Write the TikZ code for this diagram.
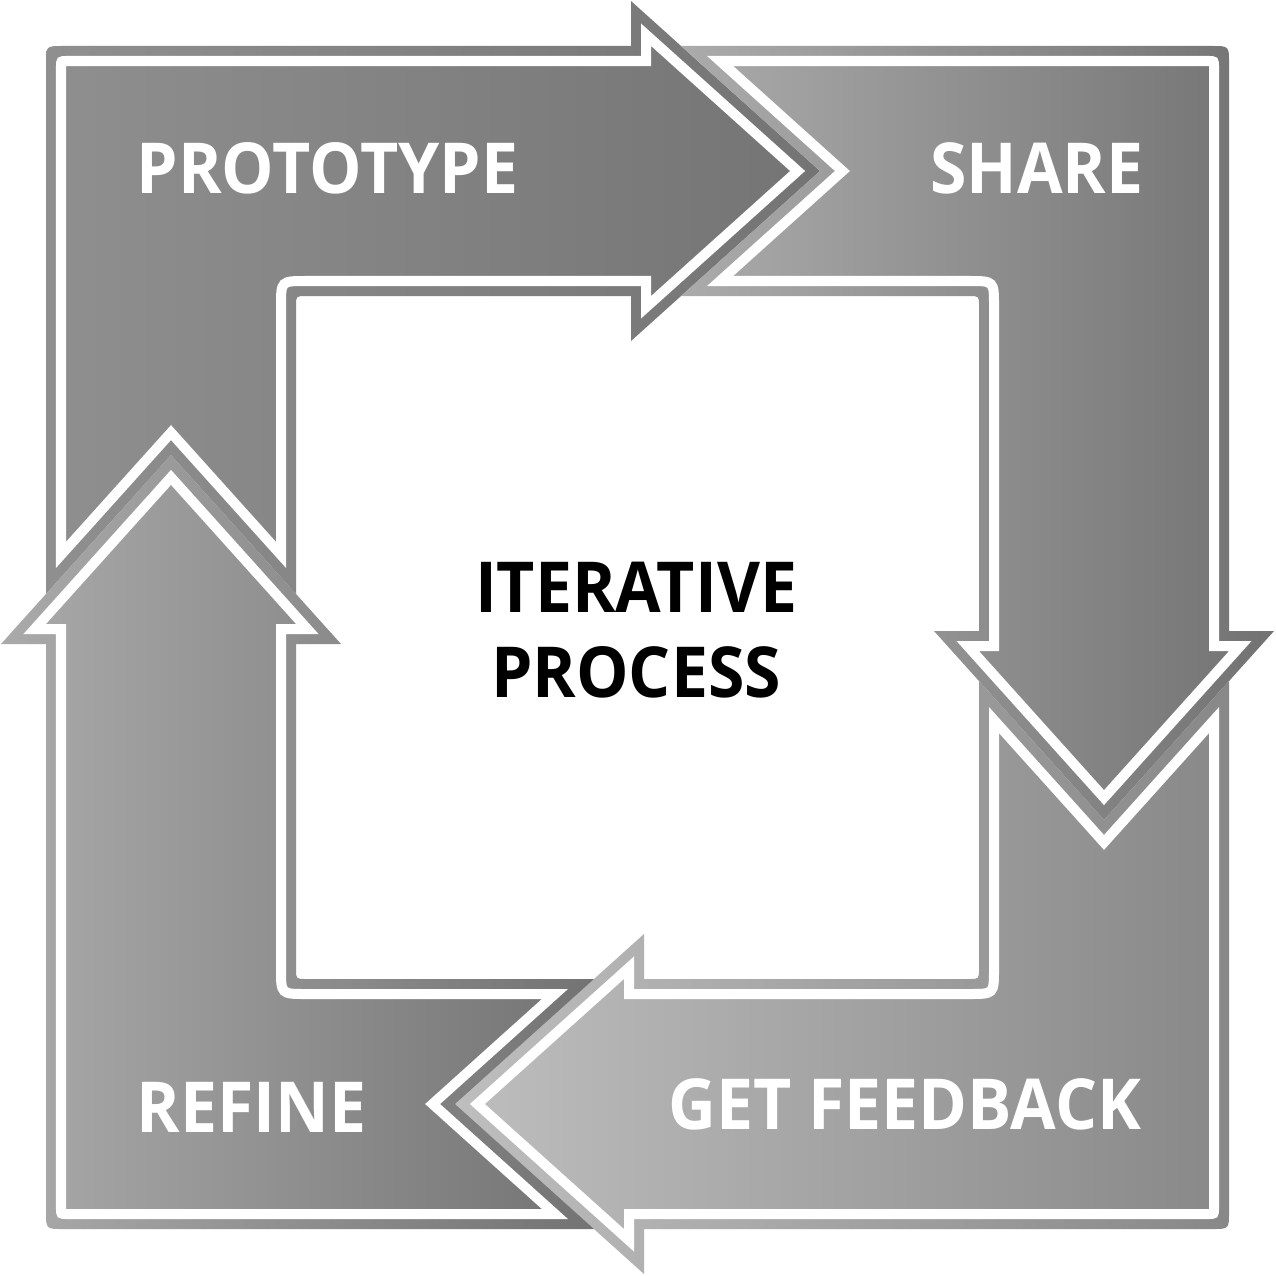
\documentclass[tikz,border=0pt]{standalone}
\usepackage{fontspec}
\newfontfamily\labelfont{Open Sans}[FakeStretch=0.94]

\definecolor{protoL}{HTML}{8F8F8F}
\definecolor{protoR}{HTML}{747474}
\definecolor{shareL}{HTML}{ABABAB}
\definecolor{shareR}{HTML}{727272}
\definecolor{feedL}{HTML}{BEBEBE}
\definecolor{feedR}{HTML}{888888}
\definecolor{refineL}{HTML}{AAAAAA}
\definecolor{refineR}{HTML}{737373}

% one arm of the ring (top-left one), the others are rotated copies
\newcommand{\armoutline}{(46,594) -- (46,63) .. controls (46,46) .. (63,46) -- (631,46) -- (631,1)
  -- (820,171) -- (631,341) -- (631,296) -- (306,296) .. controls (296,296) .. (296,306)
  -- (296,594) -- (171,455) -- cycle}
\newcommand{\armwhite}{(61,554.9) -- (61,66) .. controls (61,61) .. (66,61) -- (646,61) -- (646,34.7)
  -- (797.6,171) -- (646,307.3) -- (646,281) -- (306,281) .. controls (281,281) .. (281,306)
  -- (281,554.9) -- (171,432.6) -- cycle}

\begin{document}
\begin{tikzpicture}
  [x=0.01cm,y=-0.01cm,
   armlabel/.style={font=\labelfont\bfseries\fontsize{20}{24}\selectfont,text=white,inner sep=0pt},
   centrelabel/.style={font=\labelfont\bfseries\fontsize{20}{24.2}\selectfont,text=black,inner sep=0pt,align=center}]
    \useasboundingbox[fill=white] (0,0) rectangle (1276,1276);

    \foreach \ang/\lcol/\rcol/\xa/\xb in {0/protoL/protoR/46/820,-90/shareL/shareR/681/1274,
        180/feedL/feedR/455/1229,90/refineL/refineR/1/594}
    {
      \begin{scope}
        \clip[rotate around={\ang:(637.5,637.5)}] \armoutline;
        \shade[left color=\lcol,right color=\rcol] (\xa,0) rectangle (\xb,1276);
      \end{scope}
      \draw[rotate around={\ang:(637.5,637.5)},white,line width=1mm,line join=miter] \armwhite;
    }

    \node (prototype)[armlabel,anchor=base west] at (136,193)  {PROTOTYPE};
    \node (share)    [armlabel,anchor=base east] at (1144,193) {SHARE};
    \node (feedback) [armlabel,anchor=base east] at (1142,1129) {GET FEEDBACK};
    \node (refine)   [armlabel,anchor=base west] at (136,1132) {REFINE};

    \node (process)[centrelabel] at (636,630) {ITERATIVE\\PROCESS};
  \end{tikzpicture}
\end{document}
